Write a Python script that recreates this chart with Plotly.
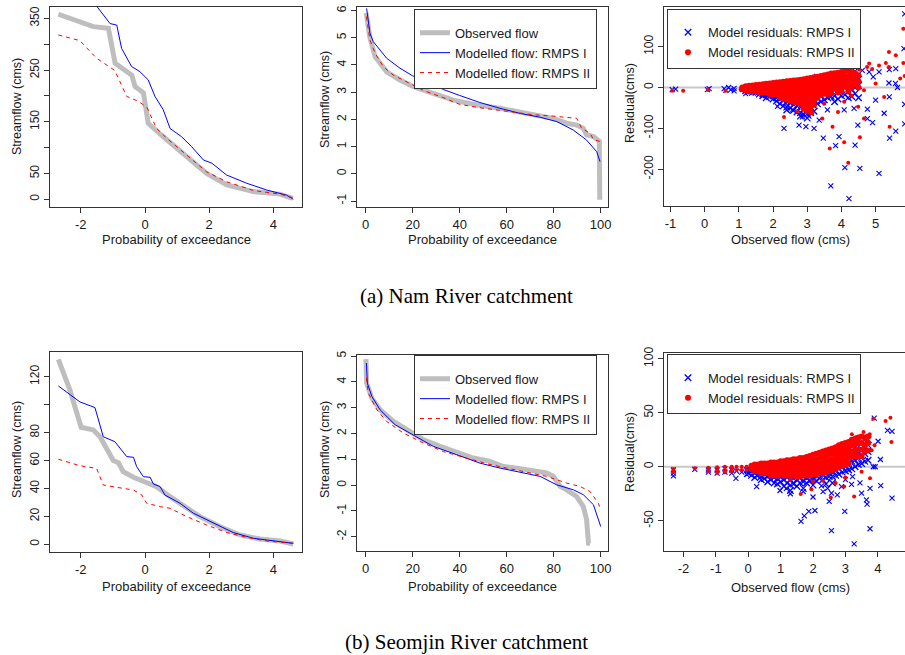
import plotly.graph_objects as go

# ======================= DATA =======================
# (a) Nam River – left panel: flow duration (transformed x)
nam_obs_x = [-2.70, -1.61, -1.14, -0.93, -0.41, -0.31, -0.05, 0.10, 0.57, 1.30, 1.92, 2.55, 3.37, 4.20, 4.60]
nam_obs_y = [358, 334, 331, 263, 240, 218, 206, 147, 121, 82, 50, 28, 15, 10, 2]
nam_m1_x = [-1.55, -1.51, -1.09, -0.88, -0.73, -0.42, -0.16, 0.10, 0.31, 0.57, 0.78, 1.14, 1.45, 1.82, 2.08, 2.54, 3.17, 3.79, 4.41, 4.62]
nam_m1_y = [385, 374, 340, 337, 292, 257, 247, 231, 199, 173, 137, 121, 102, 76, 70, 47, 31, 18, 8, 0]
nam_m2_x = [-2.70, -2.03, -1.51, -0.94, -0.57, -0.26, 0.05, 0.36, 0.68, 1.30, 1.92, 2.54, 3.38, 4.21, 4.60]
nam_m2_y = [318, 307, 273, 249, 199, 191, 179, 137, 118, 86, 53, 34, 17, 10, 3]

# (a) Nam River – middle panel: flow duration curve (%)
nam_pct_obs_x = [0.2, 1.8, 4.0, 8.9, 14.6, 20.3, 28.7, 37.3, 47.2, 57.1, 68.5, 79.8, 85.5, 89.8, 92.6, 94.0, 96.9, 98.7, 99.4, 99.6]
nam_pct_obs_y = [5.92, 5.00, 4.31, 3.75, 3.45, 3.20, 2.96, 2.71, 2.53, 2.41, 2.22, 2.04, 1.86, 1.79, 1.67, 1.43, 1.37, 1.24, 1.20, -0.95]
nam_pct_m1_x = [0.4, 1.1, 1.8, 3.2, 6.1, 8.9, 14.6, 20.0, 26.0, 33.0, 40.0, 48.6, 57.1, 65.7, 74.2, 81.3, 88.3, 94.0, 98.3, 99.7]
nam_pct_m1_y = [6.08, 5.66, 5.17, 4.86, 4.55, 4.25, 3.88, 3.60, 3.40, 3.10, 2.88, 2.62, 2.41, 2.22, 2.08, 1.92, 1.61, 1.24, 0.81, 0.45]
nam_pct_m2_x = [0.3, 1.8, 4.0, 7.5, 11.7, 18.9, 25.0, 33.0, 40.1, 48.6, 60.0, 71.3, 79.8, 89.8, 91.9, 95.5, 96.9, 100.0]
nam_pct_m2_y = [5.78, 4.92, 4.43, 3.94, 3.63, 3.33, 3.05, 2.80, 2.55, 2.43, 2.30, 2.17, 2.12, 2.04, 1.67, 1.49, 1.26, 1.18]

# (a) Nam River – right panel: residuals vs observed flow (dense cloud + scattered points)
nam_res1_cloud = [
    (1.2, -3), (1.2, -8), (1.3, -5), (1.3, -10), (1.4, -2), (1.4, -8), (1.4, -12), (1.5, -6), (1.5, -12), (1.6, -4), (1.6, -10), (1.6, -16),
    (1.7, -8), (1.7, -15), (1.7, -20), (1.8, -6), (1.8, -12), (1.8, -18), (1.8, -25), (1.9, -10), (1.9, -16), (1.9, -22),
    (2.0, -8), (2.0, -14), (2.0, -20), (2.0, -28), (2.1, -10), (2.1, -18), (2.1, -25), (2.1, -33), (2.2, -12), (2.2, -20), (2.2, -28), (2.2, -40),
    (2.3, -15), (2.3, -22), (2.3, -30), (2.3, -45), (2.4, -12), (2.4, -25), (2.4, -35), (2.4, -48), (2.4, -55), (2.5, -18), (2.5, -28), (2.5, -38), (2.5, -50),
    (2.6, -15), (2.6, -30), (2.6, -42), (2.6, -56), (2.7, -20), (2.7, -32), (2.7, -45), (2.7, -60), (2.8, -18), (2.8, -35), (2.8, -48), (2.8, -62), (2.8, -70),
    (2.9, -22), (2.9, -38), (2.9, -52), (2.9, -66), (3.0, -25), (3.0, -40), (3.0, -55), (3.0, -65), (3.0, -75), (3.1, -20), (3.1, -35), (3.1, -50), (3.1, -62),
    (3.2, -15), (3.2, -30), (3.2, -45), (3.2, -58), (3.3, -10), (3.3, -25), (3.3, -40), (3.4, 10), (3.4, -5), (3.4, -20), (3.4, -35),
    (3.5, 15), (3.5, 0), (3.5, -15), (3.5, -30), (3.6, 20), (3.6, 5), (3.6, -10), (3.6, -25), (3.7, 25), (3.7, 8), (3.7, -8), (3.7, -22),
    (3.8, 30), (3.8, 12), (3.8, -5), (3.8, -20), (3.8, -35), (3.9, 22), (3.9, 5), (3.9, -12), (3.9, -28), (4.0, 28), (4.0, 10), (4.0, -5), (4.0, -20),
    (4.1, 35), (4.1, 15), (4.1, 0), (4.1, -18), (4.2, 25), (4.2, 8), (4.2, -10), (4.2, -25), (4.3, 30), (4.3, 12), (4.3, -5), (4.3, -22),
    (4.4, 40), (4.4, 18), (4.4, 0), (4.4, -15), (4.5, 20), (4.5, 5), (4.5, -25), (2.6, 8), (2.9, 12), (3.1, 18), (3.3, 25), (3.2, 10)]
nam_res1_scatter = [
    (-0.95, -5), (-0.85, -4), (0.08, -5), (0.13, -3), (0.57, -3), (0.62, -7), (0.70, 0), (0.76, -6), (0.86, -2), (0.86, -8), (1.10, -5),
    (3.69, -241), (4.22, -272), (4.10, -196), (4.54, -198), (5.10, -210), (5.85, 180), (5.83, 95), (3.47, -124), (3.83, -142), (3.93, -120),
    (4.40, -141), (4.48, -92), (4.91, -86), (4.76, -76), (5.41, -124), (5.59, -107), (2.32, -100), (2.76, -92), (2.96, -96), (3.20, -100),
    (3.35, -80), (3.05, -70), (2.86, -72), (3.59, -55), (4.08, -55), (4.37, -51), (4.76, -53), (5.25, -63), (5.00, -31), (5.40, -23),
    (5.64, 0), (5.40, 44), (5.59, 46), (5.85, -41), (5.85, -89), (4.93, 26), (4.81, 38), (4.61, 42), (5.10, 38), (3.83, 34), (4.32, 36),
    (5.58, 10), (5.39, 11), (2.13, -46), (2.57, -55), (2.37, -39), (1.69, -19), (1.20, -15)]
nam_res2_cloud = [
    (1.1, 0), (1.1, -4), (1.2, 3), (1.2, -2), (1.2, -7), (1.3, 4), (1.3, 0), (1.3, -5), (1.3, -9), (1.4, 5), (1.4, 0), (1.4, -5), (1.4, -10),
    (1.5, 6), (1.5, 1), (1.5, -4), (1.5, -9), (1.6, 7), (1.6, 2), (1.6, -3), (1.6, -8), (1.6, -12), (1.7, 8), (1.7, 3), (1.7, -2), (1.7, -7), (1.7, -13),
    (1.8, 9), (1.8, 4), (1.8, -1), (1.8, -6), (1.8, -12), (1.9, 10), (1.9, 5), (1.9, 0), (1.9, -5), (1.9, -11), (1.9, -16),
    (2.0, 11), (2.0, 5), (2.0, 0), (2.0, -6), (2.0, -12), (2.0, -18), (2.1, 12), (2.1, 6), (2.1, 0), (2.1, -6), (2.1, -12), (2.1, -18),
    (2.2, 13), (2.2, 7), (2.2, 1), (2.2, -5), (2.2, -11), (2.2, -18), (2.2, -24), (2.3, 14), (2.3, 8), (2.3, 2), (2.3, -5), (2.3, -12), (2.3, -20), (2.3, -28),
    (2.4, 15), (2.4, 8), (2.4, 1), (2.4, -6), (2.4, -14), (2.4, -22), (2.4, -30), (2.5, 16), (2.5, 9), (2.5, 2), (2.5, -6), (2.5, -14), (2.5, -22), (2.5, -32),
    (2.6, 17), (2.6, 10), (2.6, 2), (2.6, -6), (2.6, -15), (2.6, -25), (2.6, -35), (2.7, 18), (2.7, 10), (2.7, 2), (2.7, -7), (2.7, -16), (2.7, -26), (2.7, -36),
    (2.8, 19), (2.8, 11), (2.8, 3), (2.8, -6), (2.8, -16), (2.8, -28), (2.8, -40), (2.9, 20), (2.9, 12), (2.9, 3), (2.9, -7), (2.9, -18), (2.9, -30), (2.9, -42), (2.9, -52),
    (3.0, 22), (3.0, 12), (3.0, 3), (3.0, -8), (3.0, -20), (3.0, -32), (3.0, -45), (3.0, -58), (3.1, 23), (3.1, 13), (3.1, 4), (3.1, -8), (3.1, -20), (3.1, -33), (3.1, -48), (3.1, -60),
    (3.2, 25), (3.2, 14), (3.2, 4), (3.2, -8), (3.2, -18), (3.2, -30), (3.2, -42), (3.3, 26), (3.3, 15), (3.3, 5), (3.3, -5), (3.3, -15), (3.3, -25),
    (3.4, 28), (3.4, 16), (3.4, 5), (3.4, -6), (3.4, -18), (3.5, 30), (3.5, 18), (3.5, 6), (3.5, -5), (3.5, -15), (3.6, 32), (3.6, 20), (3.6, 8), (3.6, -4), (3.6, -16),
    (3.7, 34), (3.7, 22), (3.7, 10), (3.7, -2), (3.7, -14), (3.8, 35), (3.8, 22), (3.8, 10), (3.8, -3), (3.9, 36), (3.9, 24), (3.9, 12), (3.9, 0), (3.9, -12),
    (4.0, 38), (4.0, 25), (4.0, 12), (4.0, 0), (4.0, -10), (4.1, 40), (4.1, 26), (4.1, 14), (4.1, 2), (4.2, 42), (4.2, 28), (4.2, 15), (4.2, 2), (4.2, -10),
    (4.3, 38), (4.3, 25), (4.3, 12), (4.3, 0), (4.4, 35), (4.4, 20), (4.4, 8), (4.5, 30), (4.5, 15), (4.5, 0)]
nam_res2_scatter = [
    (-0.95, -8), (-0.63, -8), (0.10, -6), (0.61, -8), (1.05, -5),
    (5.81, 144), (5.39, 87), (5.59, 79), (5.81, 60), (5.85, 28), (5.39, 50), (5.10, 54), (4.81, 59), (4.52, 44), (4.20, -184), (3.66, -149),
    (4.08, -134), (4.54, -122), (2.32, -72), (3.44, -76), (3.74, -96), (3.15, -63), (4.66, -76), (4.08, -35), (4.49, -47), (4.66, -7),
    (5.00, 10), (5.25, -23), (5.72, 22), (5.41, -96), (4.90, 45), (4.75, 50), (5.30, 60), (2.70, -58), (3.50, -40), (3.90, -60), (4.30, -20)]

# (b) Seomjin River – left panel
seo_obs_x = [-2.70, -2.34, -1.99, -1.61, -1.40, -0.99, -0.83, -0.68, -0.36, -0.05, 0.36, 0.78, 1.30, 1.71, 2.34, 2.96, 3.58, 4.21, 4.62]
seo_obs_y = [132.5, 110.5, 83.8, 81.9, 77.0, 60.0, 58.5, 52.0, 48.0, 44.9, 41.3, 34.1, 25.8, 19.8, 12.6, 6.7, 3.8, 2.4, 0.2]
seo_m1_x = [-2.70, -2.03, -1.56, -1.30, -0.94, -0.57, -0.36, -0.26, -0.05, 0.16, 0.26, 0.47, 0.62, 1.09, 1.51, 2.13, 2.75, 3.38, 4.00, 4.62]
seo_m1_y = [113.4, 102.0, 97.9, 77.0, 73.5, 62.8, 62.3, 55.6, 48.4, 48.0, 43.2, 41.3, 35.3, 29.4, 22.2, 15.0, 8.4, 4.3, 2.4, 0.7]
seo_m2_x = [-2.70, -2.03, -1.51, -1.30, -0.88, -0.36, -0.10, 0.05, 0.47, 0.78, 1.30, 1.92, 2.55, 3.17, 3.79, 4.62]
seo_m2_y = [60.9, 56.3, 54.4, 42.5, 40.8, 38.9, 35.3, 29.4, 27.0, 25.8, 19.8, 13.8, 8.4, 5.0, 2.4, 0.7]

# (b) Seomjin River – middle panel
seo_pct_obs_x = [0.1, 0.4, 2.6, 6.1, 11.8, 18.9, 24.5, 31.6, 38.7, 45.8, 52.9, 58.6, 64.3, 71.3, 77.0, 79.9, 82.7, 85.5, 89.8, 92.6, 94.0, 94.8, 95.5]
seo_pct_obs_y = [4.88, 3.95, 3.37, 2.92, 2.47, 2.08, 1.76, 1.50, 1.30, 1.05, 0.92, 0.72, 0.66, 0.53, 0.47, 0.34, -0.05, -0.18, -0.44, -0.83, -1.34, -2.25, -2.27]
seo_pct_m1_x = [0.3, 0.7, 2.6, 6.1, 12.5, 21.0, 28.8, 38.7, 48.7, 57.2, 65.7, 74.2, 81.3, 88.4, 92.6, 96.9, 100.0]
seo_pct_m1_y = [4.73, 3.95, 3.44, 2.92, 2.34, 1.89, 1.50, 1.18, 0.85, 0.66, 0.49, 0.34, 0.01, -0.18, -0.37, -0.76, -1.60]
seo_pct_m2_x = [0.3, 1.1, 4.7, 8.9, 16.0, 24.5, 33.0, 43.0, 51.5, 60.0, 68.5, 77.0, 85.5, 91.2, 95.5, 99.0, 99.7]
seo_pct_m2_y = [4.15, 3.57, 2.92, 2.47, 2.02, 1.63, 1.30, 1.05, 0.83, 0.66, 0.49, 0.34, 0.08, -0.05, -0.25, -0.70, -0.89]

# (b) Seomjin River – right panel: residuals
seo_res1_cloud = [
    (0.0, -3), (0.0, -6), (0.1, -4), (0.1, -8), (0.2, -3), (0.2, -6), (0.2, -10), (0.3, -4), (0.3, -8), (0.4, -5), (0.4, -9), (0.4, -12),
    (0.5, -4), (0.5, -7), (0.5, -11), (0.6, -5), (0.6, -9), (0.6, -14), (0.7, -4), (0.7, -8), (0.7, -12), (0.8, -5), (0.8, -10), (0.8, -15),
    (0.9, -6), (0.9, -11), (0.9, -16), (1.0, -5), (1.0, -10), (1.0, -14), (1.1, -6), (1.1, -12), (1.1, -18), (1.2, -5), (1.2, -10), (1.2, -15),
    (1.3, -6), (1.3, -12), (1.3, -17), (1.3, -22), (1.4, -5), (1.4, -11), (1.4, -16), (1.5, -6), (1.5, -12), (1.5, -18), (1.6, -5), (1.6, -10), (1.6, -15),
    (1.7, -4), (1.7, -9), (1.7, -14), (1.7, -20), (1.8, -5), (1.8, -10), (1.8, -15), (1.9, -4), (1.9, -9), (1.9, -13), (2.0, -3), (2.0, -8), (2.0, -12), (2.0, -17),
    (2.1, -4), (2.1, -8), (2.1, -13), (2.2, -2), (2.2, -7), (2.2, -11), (2.3, -3), (2.3, -7), (2.3, -12), (2.4, -2), (2.4, -6), (2.4, -10), (2.4, -16),
    (2.5, -1), (2.5, -5), (2.5, -9), (2.6, 0), (2.6, -4), (2.6, -9), (2.6, -15), (2.7, 2), (2.7, -3), (2.7, -8), (2.8, 3), (2.8, -2), (2.8, -7),
    (2.9, 5), (2.9, 0), (2.9, -5), (3.0, 6), (3.0, 1), (3.0, -4), (3.1, 8), (3.1, 3), (3.1, -3), (3.2, 10), (3.2, 5), (3.2, -2),
    (3.3, 12), (3.3, 6), (3.3, 0), (3.4, 14), (3.4, 8), (3.4, 2), (3.5, 16), (3.5, 10), (3.5, 3), (3.6, 18), (3.6, 12), (3.6, 5), (3.7, 20), (3.7, 14), (3.7, 6),
    (3.3, 18), (3.5, 22), (3.7, 25), (3.4, 12)]
seo_res1_scatter = [
    (-2.31, -3), (-2.31, -6), (-2.31, -8.5), (-1.65, -2.5), (-1.23, -3), (-1.23, -5), (-0.96, -3), (-0.96, -6), (-0.72, -2), (-0.72, -5),
    (-0.51, -3), (-0.51, -6), (-0.38, -10.8), (-0.36, -4), (-0.20, -5), (-0.05, -3), (-0.05, -7),
    (1.63, -50.6), (1.73, -45.4), (1.87, -41.4), (2.06, -40.5), (2.57, -59.2), (2.98, -41.4), (3.27, -71.5), (3.76, -57.4), (3.65, -30.7),
    (3.67, -34.7), (4.44, -29.1), (4.09, -17.5), (3.76, -20.0), (3.22, -9.2), (4.08, 6.7), (4.44, 32.8), (4.30, 33.7), (3.89, 45.0), (4.01, 23.6),
    (3.86, 0.0), (3.92, 0.0), (2.75, -26.0), (2.57, -24.5), (2.31, -23.0), (0.26, -18.4), (0.98, -22.0), (1.18, -20.0), (1.70, -23.0),
    (2.26, -17.8), (2.88, -18.4), (3.50, -24.5), (3.19, -16.3), (0.60, -14.0), (1.30, -25.0), (2.00, -28.0), (2.50, -32.0), (2.45, -20.0),
    (3.00, -12.0), (3.45, -15.0)]
seo_res2_cloud = [
    (0.1, 1), (0.1, -2), (0.2, 2), (0.2, -1), (0.2, -4), (0.3, 2), (0.3, -1), (0.3, -4), (0.4, 3), (0.4, 0), (0.4, -3), (0.4, -6),
    (0.5, 3), (0.5, 0), (0.5, -3), (0.5, -6), (0.6, 3), (0.6, 0), (0.6, -3), (0.6, -6), (0.7, 4), (0.7, 1), (0.7, -2), (0.7, -5), (0.7, -8),
    (0.8, 4), (0.8, 1), (0.8, -2), (0.8, -5), (0.8, -8), (0.9, 4), (0.9, 1), (0.9, -2), (0.9, -5), (0.9, -8), (1.0, 5), (1.0, 2), (1.0, -1), (1.0, -4), (1.0, -7),
    (1.1, 5), (1.1, 2), (1.1, -1), (1.1, -4), (1.1, -8), (1.2, 6), (1.2, 2), (1.2, -1), (1.2, -4), (1.2, -8), (1.3, 6), (1.3, 3), (1.3, 0), (1.3, -4), (1.3, -8),
    (1.4, 7), (1.4, 3), (1.4, 0), (1.4, -4), (1.4, -8), (1.5, 7), (1.5, 3), (1.5, -1), (1.5, -5), (1.5, -9), (1.6, 8), (1.6, 4), (1.6, 0), (1.6, -4), (1.6, -9),
    (1.7, 8), (1.7, 4), (1.7, 0), (1.7, -4), (1.7, -8), (1.8, 9), (1.8, 5), (1.8, 1), (1.8, -3), (1.8, -8), (1.9, 10), (1.9, 5), (1.9, 1), (1.9, -3), (1.9, -8),
    (2.0, 11), (2.0, 6), (2.0, 2), (2.0, -3), (2.0, -7), (2.1, 12), (2.1, 7), (2.1, 2), (2.1, -2), (2.1, -7), (2.2, 13), (2.2, 8), (2.2, 3), (2.2, -2), (2.2, -6),
    (2.3, 14), (2.3, 9), (2.3, 4), (2.3, -1), (2.3, -6), (2.4, 15), (2.4, 10), (2.4, 5), (2.4, 0), (2.4, -5), (2.5, 16), (2.5, 11), (2.5, 6), (2.5, 1), (2.5, -4),
    (2.6, 17), (2.6, 12), (2.6, 7), (2.6, 2), (2.6, -3), (2.7, 18), (2.7, 13), (2.7, 8), (2.7, 3), (2.7, -2), (2.8, 20), (2.8, 15), (2.8, 10), (2.8, 5), (2.8, 0),
    (2.9, 21), (2.9, 16), (2.9, 11), (2.9, 6), (2.9, 1), (3.0, 22), (3.0, 17), (3.0, 12), (3.0, 7), (3.0, 2), (3.1, 23), (3.1, 18), (3.1, 13), (3.1, 8), (3.1, 3),
    (3.2, 25), (3.2, 20), (3.2, 14), (3.2, 9), (3.3, 26), (3.3, 21), (3.3, 15), (3.3, 10), (3.4, 27), (3.4, 22), (3.4, 16), (3.4, 10),
    (3.5, 28), (3.5, 22), (3.5, 16), (3.5, 10), (3.6, 27), (3.6, 20), (3.6, 14), (3.7, 28), (3.7, 22), (3.7, 15)]
seo_res2_scatter = [
    (-2.31, -2), (-2.31, -4.5), (-1.65, -1.5), (-1.23, -1), (-1.23, -4), (-0.96, -0.5), (-0.96, -3), (-0.96, -5.5), (-0.72, 0), (-0.72, -3),
    (-0.72, -5), (-0.51, 0), (-0.51, -3), (-0.51, -4), (-0.36, 0), (-0.36, -3), (-0.20, 0), (-0.20, -3), (-0.05, 0), (-0.05, -3),
    (1.62, -25.2), (1.95, -20.9), (2.55, -28.5), (2.96, -18.4), (3.27, -27.6), (3.76, -10.7), (3.50, -4.6), (3.86, 44.5), (4.24, 42.3),
    (4.39, 45.4), (4.42, 23.0), (3.65, 24.5), (3.34, 27.6), (3.56, 32.2), (3.81, 15.3), (1.30, -12.0), (2.00, -14.0), (2.30, -13.0),
    (2.70, -15.0), (3.00, -10.0), (3.20, 30.0), (3.75, 30.0), (3.90, 20.0)]

# tick values / labels
fdc_a_yticks = [0, 50, 100, 150, 200, 250, 300, 350]
fdc_a_ylabels = ['0', '50', '', '150', '', '250', '', '350']
fdc_b_yticks = [0, 20, 40, 60, 80, 100, 120]
fdc_b_ylabels = ['0', '20', '40', '60', '80', '', '120']
prob_xticks = [-2, 0, 2, 4]
pct_xticks = [0, 20, 40, 60, 80, 100]

# ======================= FIGURE =======================
W, H = 905, 655
SANS = 'Liberation Sans, Arial, sans-serif'
SERIF = 'Liberation Serif, Times New Roman, serif'
GRAY, BLUE, RED = '#bebebe', '#0000ff', '#ff0000'
AXC = '#333333'
TXT = '#1a1a1a'


def fx(p):
    return p / W


def fy(p):
    return 1 - p / H


fig = go.Figure()


def add_fdc(ax, ox, oy, bx, by, rx, ry, legend=None):
    show = legend is not None
    xa, ya = 'x' + ax, 'y' + ax
    kw = dict(xaxis=xa, yaxis=ya, showlegend=show, mode='lines', hoverinfo='skip')
    if show:
        kw['legend'] = legend
    fig.add_trace(go.Scatter(x=ox, y=oy, name='Observed flow', line=dict(color=GRAY, width=5), **kw))
    fig.add_trace(go.Scatter(x=bx, y=by, name='Modelled flow: RMPS I', line=dict(color=BLUE, width=1), **kw))
    fig.add_trace(go.Scatter(x=rx, y=ry, name='Modelled flow: RMPS II', line=dict(color=RED, width=1, dash='4px,4px'), **kw))


def add_res(ax, c1, s1, c2, s2, legend):
    xa, ya = 'x' + ax, 'y' + ax
    n1, n2 = 'Model residuals: RMPS I', 'Model residuals: RMPS II'
    g1, g2 = legend + 'a', legend + 'b'
    # RMPS I (blue crosses)
    fig.add_trace(go.Scatter(x=[p[0] for p in c1], y=[p[1] for p in c1], mode='markers', name=n1, legendgroup=g1,
                             xaxis=xa, yaxis=ya, legend=legend,
                             marker=dict(symbol='x-thin', size=6.5, color=BLUE, line=dict(color=BLUE, width=1.3))))
    fig.add_trace(go.Scatter(x=[p[0] for p in s1], y=[p[1] for p in s1], mode='markers', name=n1, legendgroup=g1,
                             xaxis=xa, yaxis=ya, legend=legend, showlegend=False,
                             marker=dict(symbol='x-thin', size=5, color=BLUE, line=dict(color=BLUE, width=1.1))))
    # RMPS II (red dots)
    fig.add_trace(go.Scatter(x=[p[0] for p in c2], y=[p[1] for p in c2], mode='markers', name=n2, legendgroup=g2,
                             xaxis=xa, yaxis=ya, legend=legend,
                             marker=dict(symbol='circle', size=6, color=RED, line=dict(width=0))))
    fig.add_trace(go.Scatter(x=[p[0] for p in s2], y=[p[1] for p in s2], mode='markers', name=n2, legendgroup=g2,
                             xaxis=xa, yaxis=ya, legend=legend, showlegend=False,
                             marker=dict(symbol='circle', size=4, color=RED, line=dict(width=0))))


add_fdc('', nam_obs_x, nam_obs_y, nam_m1_x, nam_m1_y, nam_m2_x, nam_m2_y)
add_fdc('2', nam_pct_obs_x, nam_pct_obs_y, nam_pct_m1_x, nam_pct_m1_y, nam_pct_m2_x, nam_pct_m2_y, 'legend')
add_res('3', nam_res1_cloud, nam_res1_scatter, nam_res2_cloud, nam_res2_scatter, 'legend2')
add_fdc('4', seo_obs_x, seo_obs_y, seo_m1_x, seo_m1_y, seo_m2_x, seo_m2_y)
add_fdc('5', seo_pct_obs_x, seo_pct_obs_y, seo_pct_m1_x, seo_pct_m1_y, seo_pct_m2_x, seo_pct_m2_y, 'legend3')
add_res('6', seo_res1_cloud, seo_res1_scatter, seo_res2_cloud, seo_res2_scatter, 'legend4')


def xaxis(dom, rng, ticks, anchor, labels=None):
    return dict(domain=[fx(dom[0]), fx(dom[1])], range=rng, anchor=anchor,
                tickmode='array', tickvals=ticks, ticktext=labels if labels else [str(t) for t in ticks],
                ticks='outside', ticklen=5, tickwidth=1, tickcolor=AXC,
                showline=True, linecolor=AXC, linewidth=1.2, mirror=True,
                showgrid=False, zeroline=False, automargin=False,
                tickfont=dict(family=SANS, size=13, color=TXT))


def yaxis(dom, rng, ticks, anchor, labels=None, mirror=True):
    return dict(domain=[fy(dom[1]), fy(dom[0])], range=rng, anchor=anchor,
                tickmode='array', tickvals=ticks, ticktext=labels if labels else [str(t) for t in ticks],
                ticks='outside', ticklen=5, tickwidth=1, tickcolor=AXC, tickangle=-90,
                showline=True, linecolor=AXC, linewidth=1.2, mirror=mirror,
                showgrid=False, zeroline=False, automargin=False,
                tickfont=dict(family=SANS, size=12, color=TXT))


layout = dict(
    width=W, height=H, margin=dict(l=0, r=0, t=0, b=0),
    paper_bgcolor='white', plot_bgcolor='white', showlegend=True,
    xaxis=xaxis((50, 302), [-2.96, 4.89], prob_xticks, 'y'),
    yaxis=yaxis((6.5, 207), [-14.9, 373], fdc_a_yticks, 'x', fdc_a_ylabels),
    xaxis2=xaxis((357, 608), [-3.7, 103.1], pct_xticks, 'y2'),
    yaxis2=yaxis((6.5, 207), [-1.22, 6.15], list(range(-1, 7)), 'x2'),
    xaxis3=xaxis((664, 905), [-1.19, 5.86], [-1, 0, 1, 2, 3, 4, 5], 'y3'),
    yaxis3=yaxis((7, 206), [-290, 197], [-200, -100, 0, 100], 'x3', mirror=False),
    xaxis4=xaxis((50, 302), [-2.96, 4.89], prob_xticks, 'y4'),
    yaxis4=yaxis((352, 552), [-5.5, 137.7], fdc_b_yticks, 'x4', fdc_b_ylabels),
    xaxis5=xaxis((357, 608), [-3.7, 103.1], pct_xticks, 'y5'),
    yaxis5=yaxis((355, 551), [-2.55, 5.04], list(range(-2, 6)), 'x5'),
    xaxis6=xaxis((664, 905), [-2.60, 4.84], [-2, -1, 0, 1, 2, 3, 4], 'y6'),
    yaxis6=yaxis((353, 551), [-78, 105.3], [-50, 0, 50, 100], 'x6', mirror=False),
)

leg_common = dict(bgcolor='white', bordercolor=AXC, borderwidth=1, xanchor='left', yanchor='top',
                  font=dict(family=SANS, size=13, color=TXT), traceorder='normal',
                  title=dict(text='\u00a0', font=dict(size=6)))
layout['legend'] = dict(x=fx(414), y=fy(9), **leg_common)
layout['legend2'] = dict(x=fx(667), y=fy(8.5), **leg_common)
layout['legend3'] = dict(x=fx(414), y=fy(355), **leg_common)
layout['legend4'] = dict(x=fx(667), y=fy(354), **leg_common)

# zero reference lines in the residual panels
layout['shapes'] = [
    dict(type='line', xref='x3 domain', x0=0, x1=1, yref='y3', y0=0, y1=0, line=dict(color='#c8c8c8', width=2), layer='below'),
    dict(type='line', xref='x6 domain', x0=0, x1=1, yref='y6', y0=0, y1=0, line=dict(color='#c8c8c8', width=2), layer='below'),
]


def ann(x, y, text, size=13, angle=0, family=SANS, color=TXT):
    return dict(x=fx(x), y=fy(y), xref='paper', yref='paper', text=text, showarrow=False,
                xanchor='center', yanchor='middle', textangle=angle,
                font=dict(family=family, size=size, color=color))


layout['annotations'] = [
    ann(176, 240, 'Probability of exceedance'),
    ann(482.5, 239, 'Probability of exceedance'),
    ann(790, 239, 'Observed flow (cms)'),
    ann(176, 586, 'Probability of exceedance'),
    ann(482.5, 586, 'Probability of exceedance'),
    ann(790, 587, 'Observed flow (cms)'),
    ann(17, 107, 'Streamflow (cms)', 12.5, -90),
    ann(325, 100, 'Streamflow (cms)', 12.5, -90),
    ann(630, 103, 'Residual(cms)', 12.5, -90),
    ann(17, 450, 'Streamflow (cms)', 12.5, -90),
    ann(325, 450, 'Streamflow (cms)', 12.5, -90),
    ann(630, 452, 'Residual(cms)', 12.5, -90),
    ann(467, 296, '(a) Nam River catchment', 21, 0, SERIF, '#000000'),
    ann(467, 642, '(b) Seomjin River catchment', 21, 0, SERIF, '#000000'),
]

fig.update_layout(**layout)
fig.write_html('out.html')
